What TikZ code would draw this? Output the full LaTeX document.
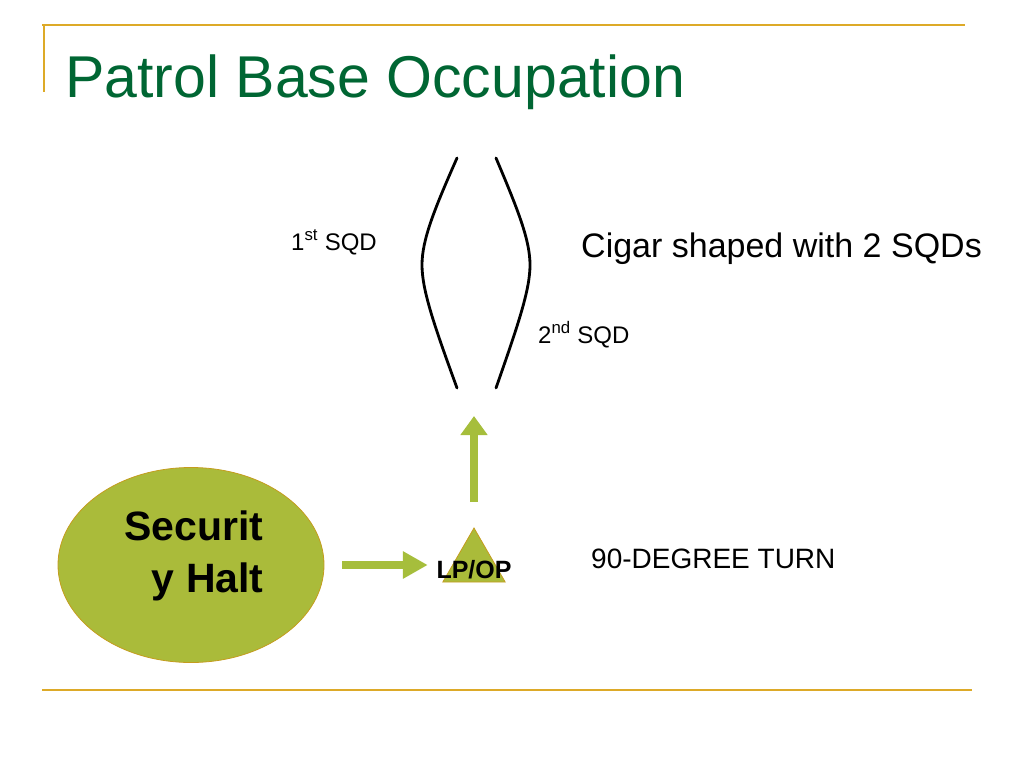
\documentclass[tikz,border=0pt]{standalone}
\usepackage{fontspec}
\setmainfont{Liberation Sans}
\usetikzlibrary{arrows.meta,shapes.geometric}
\definecolor{title}{RGB}{0,102,51}
\definecolor{rule}{RGB}{221,170,40}
\definecolor{olive}{RGB}{170,187,58}
\definecolor{oliveedge}{RGB}{196,156,30}
\definecolor{go}{RGB}{166,190,60}
\tikzset{
  bar/.style={draw=rule, line width=2pt},
  lbl/.style={font=\fontsize{24}{28}\selectfont, inner sep=0pt, anchor=base west},
  note/.style={font=\fontsize{28}{32}\selectfont, inner sep=0pt, anchor=base west},
  zone/.style={ellipse, fill=olive, draw=oliveedge, line width=0.8pt, inner sep=0pt},
  post/.style={regular polygon, regular polygon sides=3, fill=olive, draw=oliveedge, line width=0.8pt, inner sep=0pt},
  flow/.style={go, line width=8pt},
  sqd/.style={line width=2.8pt, line cap=round},
}

\begin{document}
\begin{tikzpicture}[x=1pt, y=-1pt]
  \useasboundingbox (0,0) rectangle (1024,768);
  % slide frame
  \draw[bar] (42,25) -- (965,25);
  \draw[bar] (44,25) -- (44,92);
  \draw[bar] (42,690) -- (972,690);
  \node[anchor=base west, inner sep=0pt, text=title, font=\fontsize{59}{64}\selectfont] (head) at (65,97) {Patrol Base Occupation};

  % the two squads, cigar shaped
  \draw[sqd] (457,158) .. controls (434,210) and (422,240) .. (422,265) .. controls (422,290) and (434,325) .. (457,388);
  \draw[sqd] (496,158) .. controls (518,210) and (530,240) .. (530,265) .. controls (530,290) and (518,325) .. (496,388);
  \coordinate (gap) at (474,389);
  \node[lbl] (first) at (291,250) {1\textsuperscript{st} SQD};
  \node[lbl] (second) at (538,343) {2\textsuperscript{nd} SQD};
  \node[note, font=\fontsize{34}{38}\selectfont] (cigar) at (581,257) {Cigar shaped with 2 SQDs};

  % halt, LP/OP and the turn
  \node[zone, minimum width=266pt, minimum height=195pt] (halt) at (191,565) {};
  \node[align=right, inner sep=0pt, font=\fontsize{41}{52}\selectfont\bfseries] (halttext) at (194,556) {Securit\\ y Halt};
  \node[post, minimum size=72pt] (lpop) at (474,564) {};
  \node[anchor=base, inner sep=0pt, font=\fontsize{25}{30}\selectfont\bfseries] (lpoptext) at (474,578) {LP/OP};
  \node[note] (turn) at (591,568) {90-DEGREE TURN};

  \draw[flow, -{Triangle[length=25pt,width=26pt]}, shorten <=18pt, shorten >=25pt] (halt.east) -- (lpop.west |- halt.east);
  \draw[flow, -{Triangle[length=19pt,width=26pt]}, shorten <=25pt, shorten >=27pt] (lpop.north) -- (gap);
\end{tikzpicture}
\end{document}
